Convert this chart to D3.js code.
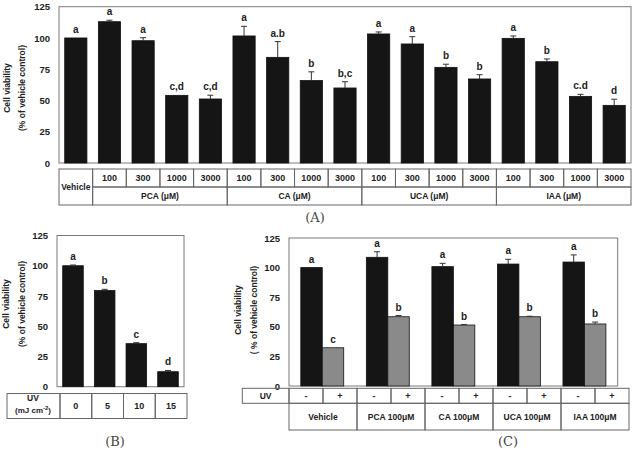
<!DOCTYPE html>
<html>
<head>
<meta charset="utf-8">
<script src="https://cdn.jsdelivr.net/npm/d3@7"></script>
<style>
  body { margin: 0; background: #fff; }
  svg text { font-family: "Liberation Sans", Arial, sans-serif; font-weight: bold; fill: #222; }
  .panelLabel { font-family: "DejaVu Serif", "Liberation Serif", serif; font-weight: normal; fill: #444; }
</style>
</head>
<body>
<div id="chart"></div>
<script>
'use strict';

// Y axis ticks shared by all panels
const yTicks = [0, 25, 50, 75, 100, 125];

// Panel A
const aDoses = ['100', '300', '1000', '3000'];
const aGroups = ['PCA (μM)', 'CA (μM)', 'UCA (μM)', 'IAA (μM)'];
const aValues = [100, 113, 97.8, 54.1, 51.2, 101.6, 84.5, 65.9, 60, 103.2, 95.2, 76.5, 67.2, 99.7, 81, 53.3, 46.1];
const aErrors = [0, 1.2, 2.4, 0, 3, 7.7, 12.6, 7, 5, 1.6, 5.8, 2.5, 3.4, 1.9, 2.2, 1.6, 4.9];
const aLetters = ['a', 'a', 'a', 'c,d', 'c,d', 'a', 'a.b', 'b', 'b,c', 'a', 'a', 'b', 'b', 'a', 'b', 'c.d', 'd'];

// Panel B
const bDoses = ['0', '5', '10', '15'];
const bValues = [100, 79.5, 35.6, 12.4];
const bErrors = [0.6, 1, 0.8, 1];
const bLetters = ['a', 'b', 'c', 'd'];

// Panel C
const cGroups = ['Vehicle', 'PCA 100μM', 'CA 100μM', 'UCA 100μM', 'IAA 100μM'];
const cUV = ['-', '+'];
const cMinus = [100, 108.7, 100.8, 103, 104.7];
const cPlus = [32.3, 58.5, 51.5, 58.5, 52.4];
const cMinusErr = [0, 4.7, 2.8, 4, 6];
const cPlusErr = [0, 1, 0.4, 0.4, 1.6];
const cMinusLetters = ['a', 'a', 'a', 'a', 'a'];
const cPlusLetters = ['c', 'b', 'b', 'b', 'b'];

const svg = d3.select('#chart').append('svg')
  .attr('width', 633)
  .attr('height', 449);

const frameColor = '#7a7a7a';
const barBlack = '#151515';
const barGray = '#8a8a8a';

function drawFrame(box) {
  svg.append('rect')
    .attr('x', box.left).attr('y', box.top)
    .attr('width', box.right - box.left).attr('height', box.bottom - box.top)
    .attr('fill', 'none').attr('stroke', frameColor).attr('stroke-width', 1);
}

function drawYAxis(y, box) {
  const g = svg.append('g')
    .attr('transform', 'translate(' + box.left + ',0)')
    .call(d3.axisLeft(y).tickValues(yTicks).tickSize(0).tickPadding(9));
  g.select('.domain').remove();
  g.selectAll('text').attr('font-size', 9.5).style('font-weight', 'bold').attr('fill', '#222');
}

function drawYTitle(x1, x2, yc, text2) {
  svg.append('text')
    .attr('transform', 'translate(' + x1 + ',' + yc + ') rotate(-90)')
    .attr('text-anchor', 'middle').attr('dy', '0.35em')
    .attr('font-size', 8.5).text('Cell viability');
  svg.append('text')
    .attr('transform', 'translate(' + x2 + ',' + yc + ') rotate(-90)')
    .attr('text-anchor', 'middle').attr('dy', '0.35em')
    .attr('font-size', 8.5).text(text2);
}

function drawBars(data, y, xOf, width, color) {
  // data: [{v, e, l}]
  data.forEach((d, i) => {
    const x0 = xOf(i);
    svg.append('rect')
      .attr('x', x0).attr('y', y(d.v))
      .attr('width', width).attr('height', y(0) - y(d.v))
      .attr('fill', color).attr('stroke', '#111').attr('stroke-width', 0.8);
    const cx = x0 + width / 2;
    if (d.e > 0) {
      svg.append('line')
        .attr('x1', cx).attr('x2', cx)
        .attr('y1', y(d.v)).attr('y2', y(d.v + d.e))
        .attr('stroke', '#333').attr('stroke-width', 1);
      svg.append('line')
        .attr('x1', cx - 3).attr('x2', cx + 3)
        .attr('y1', y(d.v + d.e)).attr('y2', y(d.v + d.e))
        .attr('stroke', '#333').attr('stroke-width', 1);
    }
    svg.append('text')
      .attr('x', cx).attr('y', y(d.v + d.e) - 5)
      .attr('text-anchor', 'middle').attr('font-size', 10)
      .text(d.l);
  });
}

function cell(x0, y0, x1, y1, text, size) {
  svg.append('rect')
    .attr('x', x0).attr('y', y0).attr('width', x1 - x0).attr('height', y1 - y0)
    .attr('fill', 'none').attr('stroke', '#666').attr('stroke-width', 1);
  if (text !== undefined) {
    svg.append('text')
      .attr('x', (x0 + x1) / 2).attr('y', (y0 + y1) / 2).attr('dy', '0.35em')
      .attr('text-anchor', 'middle').attr('font-size', size || 8.5)
      .text(text);
  }
}

// ---------- Panel A ----------
const boxA = {left: 59, right: 631, top: 6.7, bottom: 163};
const yA = d3.scaleLinear().domain([0, 125]).range([boxA.bottom, boxA.top]);
const xA = d3.scaleBand().domain(d3.range(aValues.length)).range([boxA.left, boxA.right]).paddingInner(0.34).paddingOuter(0.17);
const bandA = (boxA.right - boxA.left) / aValues.length;

drawFrame(boxA);
drawYAxis(yA, boxA);
drawYTitle(7, 22, 88, '(% of vehicle control)');
drawBars(aValues.map((v, i) => ({v: v, e: aErrors[i], l: aLetters[i]})), yA, i => xA(i), xA.bandwidth(), barBlack);

// table A
const tA = {top: 169, mid: 187, bottom: 205};
cell(boxA.left, tA.top, boxA.left + bandA, tA.bottom, 'Vehicle', 8.5);
aGroups.forEach((grp, gi) => {
  const gx0 = boxA.left + bandA * (1 + gi * aDoses.length);
  aDoses.forEach((dose, di) => {
    const x0 = gx0 + di * bandA;
    cell(x0, tA.top, x0 + bandA, tA.mid, dose, 9);
  });
  cell(gx0, tA.mid, gx0 + bandA * aDoses.length, tA.bottom, grp, 8.5);
});
svg.append('text').attr('class', 'panelLabel')
  .attr('x', 315).attr('y', 222).attr('text-anchor', 'middle').attr('font-size', 13).text('(A)');

// ---------- Panel B ----------
const boxB = {left: 57, right: 184, top: 235.5, bottom: 386.7};
const yB = d3.scaleLinear().domain([0, 125]).range([boxB.bottom, boxB.top]);
const xB = d3.scaleBand().domain(d3.range(bValues.length)).range([boxB.left, boxB.right]).paddingInner(0.35).paddingOuter(0.18);

drawFrame(boxB);
drawYAxis(yB, boxB);
drawYTitle(6, 22, 304, '(% of vehicle control)');
drawBars(bValues.map((v, i) => ({v: v, e: bErrors[i], l: bLetters[i]})), yB, i => xB(i), xB.bandwidth(), barBlack);

// table B
const tB = {top: 393.5, bottom: 418.5};
const bandB = (boxB.right - boxB.left) / bDoses.length;
cell(7, tB.top, boxB.left + 3, tB.bottom);
svg.append('text').attr('x', 33).attr('y', 401).attr('text-anchor', 'middle').attr('font-size', 8.5).text('UV');
const uvUnit = svg.append('text').attr('x', 33).attr('y', 413).attr('text-anchor', 'middle').attr('font-size', 8);
uvUnit.append('tspan').text('(mJ cm');
uvUnit.append('tspan').attr('dy', -3).attr('font-size', 6).text('-2');
uvUnit.append('tspan').attr('dy', 3).text(')');
bDoses.forEach((d, i) => {
  const x0 = boxB.left + 3 + i * bandB;
  cell(x0, tB.top, x0 + bandB, tB.bottom, d, 9);
});
svg.append('text').attr('class', 'panelLabel')
  .attr('x', 115).attr('y', 446).attr('text-anchor', 'middle').attr('font-size', 13).text('(B)');

// ---------- Panel C ----------
const boxC = {left: 289, right: 617.7, top: 238, bottom: 386};
const yC = d3.scaleLinear().domain([0, 125]).range([boxC.bottom, boxC.top]);
const xC = d3.scaleBand().domain(d3.range(cGroups.length)).range([boxC.left, boxC.right]).paddingInner(0.345).paddingOuter(0.18);
const xCsub = d3.scaleBand().domain([0, 1]).range([0, xC.bandwidth()]);

drawFrame(boxC);
drawYAxis(yC, boxC);
drawYTitle(238, 254, 310, '( % of vehicle control)');
drawBars(cMinus.map((v, i) => ({v: v, e: cMinusErr[i], l: cMinusLetters[i]})), yC, i => xC(i) + xCsub(0), xCsub.bandwidth(), barBlack);
drawBars(cPlus.map((v, i) => ({v: v, e: cPlusErr[i], l: cPlusLetters[i]})), yC, i => xC(i) + xCsub(1), xCsub.bandwidth(), barGray);

// table C
const tC = {left: 242.3, start: 289, end: 629, top: 388.3, mid: 403.3, bottom: 430};
const cellC = (tC.end - tC.start) / (cGroups.length * cUV.length);
cell(tC.left, tC.top, tC.start, tC.mid, 'UV', 8.5);
cGroups.forEach((grp, gi) => {
  const gx0 = tC.start + gi * cellC * cUV.length;
  cUV.forEach((u, ui) => {
    const x0 = gx0 + ui * cellC;
    cell(x0, tC.top, x0 + cellC, tC.mid, u, 9);
  });
  cell(gx0, tC.mid, gx0 + cellC * cUV.length, tC.bottom, grp, 8.5);
});
svg.append('text').attr('class', 'panelLabel')
  .attr('x', 508).attr('y', 446).attr('text-anchor', 'middle').attr('font-size', 13).text('(C)');
</script>
</body>
</html>
